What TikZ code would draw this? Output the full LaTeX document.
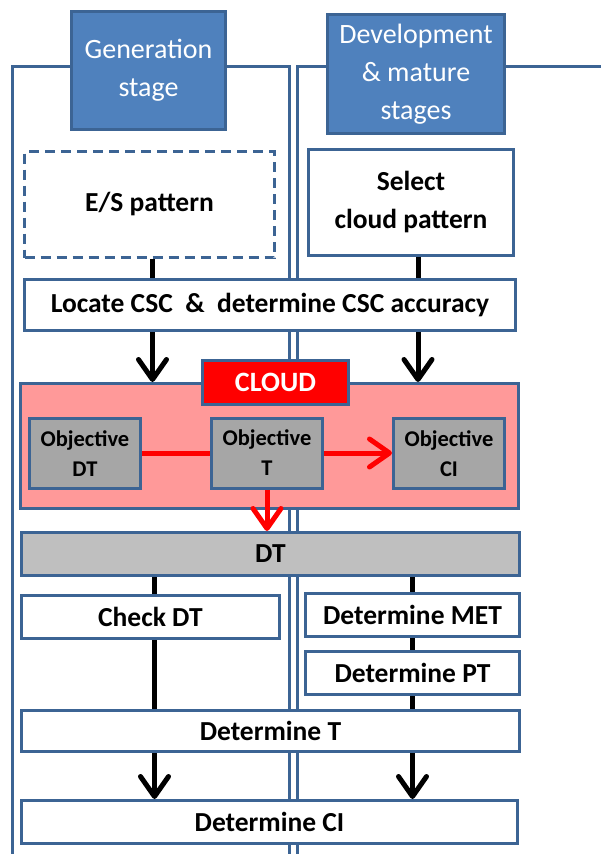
\documentclass[tikz,border=0pt]{standalone}
\usepackage{fontspec}
\setmainfont{Carlito}
\usetikzlibrary{arrows.meta,positioning}
\definecolor{hdrblue}{HTML}{4F81BD}
\definecolor{edgeblue}{HTML}{3C6494}
\definecolor{cloudpink}{HTML}{FF9999}
\definecolor{objgray}{HTML}{A6A6A6}
\definecolor{bargray}{HTML}{BFBFBF}

\begin{document}
\begin{tikzpicture}[x=1pt, y=-1pt,
every node/.style = {shape=rectangle, draw=edgeblue, line width=3pt,
	align=center, inner sep=0pt},
header/.style = {fill=hdrblue, text=white, font=\fontsize{28}{38}\selectfont},
stepbox/.style = {fill=white, font=\fontsize{27.5}{38}\selectfont\bfseries},
objbox/.style = {fill=objgray, minimum width=111pt, minimum height=70pt,
	font=\fontsize{22.5}{30}\selectfont\bfseries},
lane/.style = {draw=edgeblue, line width=3pt},
link/.style = {line width=5pt},
flow/.style = {line width=5pt, -{Straight Barb[length=20pt,width=28pt,round]}},
redflow/.style = {red, line width=5pt, -{Straight Barb[length=20pt,width=28pt,round]}}]
\useasboundingbox (0,0) rectangle (600,854);

% swim lanes
\draw[lane] (12,856) |- (289,66) -- (289,856);
\draw[lane] (297,856) |- (602,66);

% headers
\node[header, minimum width=154pt, minimum height=118pt] (gen) at (148.5,70.5) {Generation\\stage};
\node[header, minimum width=177pt, minimum height=119pt] (dev) at (416,74) {Development\\\& mature\\stages};

% first steps
\node[stepbox, dashed, dash pattern=on 10pt off 6pt, minimum width=250pt, minimum height=106pt] (es) at (149.5,204.5) {E/S pattern};
\node[stepbox, minimum width=205pt, minimum height=106pt] (sel) at (411,202.5) {Select\\cloud pattern};
\node[stepbox, minimum width=491pt, minimum height=51pt] (loc) at (270,305) {Locate CSC \ \& \ determine CSC accuracy};

% cloud
\node[fill=cloudpink, minimum width=498pt, minimum height=125pt] (cloud) at (269.5,446) {};
\node[fill=red, text=white, font=\fontsize{28}{32}\selectfont\bfseries,
	minimum width=146pt, minimum height=44pt] (cloudlbl) at (275.5,382.5) {CLOUD};
\node[objbox] (odt) at (85,453.5) {Objective\\DT};
\node[objbox] (ot) at (267,453) {Objective\\T};
\node[objbox] (oci) at (449,453.5) {Objective\\CI};

% lower steps
\node[stepbox, fill=bargray, minimum width=498pt, minimum height=43pt] (dt) at (270.5,554) {DT};
\node[stepbox, minimum width=258pt, minimum height=43pt] (chk) at (150.5,617) {Check DT};
\node[stepbox, minimum width=214pt, minimum height=43pt] (met) at (412.5,615) {Determine MET};
\node[stepbox, minimum width=214pt, minimum height=43pt] (pt) at (412.5,673) {Determine PT};
\node[stepbox, minimum width=498pt, minimum height=41pt] (dtT) at (270.5,731) {Determine T};
\node[stepbox, minimum width=496pt, minimum height=43pt] (ci) at (269.5,822) {Determine CI};

% connectors
\coordinate (lcol) at ([xshift=3pt]es.south);
\coordinate (rcol) at ([xshift=7pt]sel.south);
\draw[link] (lcol) -- (lcol |- loc.north);
\draw[link] (rcol) -- (rcol |- loc.north);
\draw[flow] (lcol |- loc.south) -- (lcol |- cloud.north);
\draw[flow] (rcol |- loc.south) -- (rcol |- cloud.north);

\draw[red, line width=5pt] (odt.east) -- (odt.east -| ot.west);
\draw[redflow] (ot.east) -- (ot.east -| oci.west);
\draw[redflow] (ot.south) -- (ot.south |- dt.north);

\coordinate (lcol2) at ([xshift=4pt]chk.north);
\draw[link] (lcol2 |- dt.south) -- (lcol2);
\draw[link] (lcol2 |- chk.south) -- (lcol2 |- dtT.north);
\draw[link] (met.north |- dt.south) -- (met.north);
\draw[link] (met.south) -- (pt.north);
\draw[link] (pt.south) -- (pt.south |- dtT.north);
\draw[flow] (lcol2 |- dtT.south) -- (lcol2 |- ci.north);
\draw[flow] (pt.south |- dtT.south) -- (pt.south |- ci.north);
\end{tikzpicture}
\end{document}
